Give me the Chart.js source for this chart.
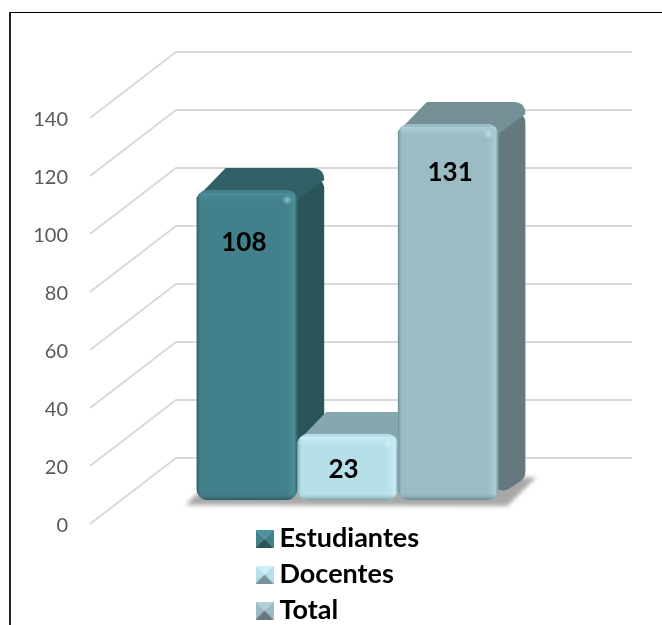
<!DOCTYPE html>
<html>
<head>
<meta charset="utf-8">
<script src="https://cdn.jsdelivr.net/npm/chart.js@4/dist/chart.umd.min.js"></script>
<style>
  html, body { margin: 0; padding: 0; background: #fff; }
  #wrap { position: relative; width: 662px; height: 625px; overflow: hidden; }
  #frame { position: absolute; left: 9px; top: 12px; right: -5px; bottom: -5px; border-left: 2px solid #222; border-top: 1px solid #000; }
  canvas { position: absolute; left: 0; top: 0; }
</style>
</head>
<body>
<div id="wrap">
  <div id="frame"></div>
  <canvas id="chart" width="662" height="625"></canvas>
</div>
<script>
const categories = ['']
const seriesNames = ['Estudiantes', 'Docentes', 'Total']
const seriesValues = [[108], [23], [131]]
const tickValues = [0, 20, 40, 60, 80, 100, 120, 140]

// front, top, side, light edge, dark edge
const palette = [
  ['#42818b', '#316067', '#295559', '#4c919b', '#2b5a61'],
  ['#b5dfe9', '#87a7ae', '#78949a', '#cdf0f8', '#7a9ca4'],
  ['#9cbcc5', '#748f95', '#64787d', '#aed0d9', '#688790']
]

const depthX = 27
const depthY = 22
const radius = 11
// value label shift from the bar's top centre
const labelShift = [[-3, 53], [-4, 36], [2, 49]]

function roundedPoly(ctx, pts, r) {
  ctx.beginPath()
  ctx.moveTo((pts[0][0] + pts[1][0]) / 2, (pts[0][1] + pts[1][1]) / 2)
  for (let i = 1; i <= pts.length; i++) {
    const p = pts[i % pts.length]
    const n = pts[(i + 1) % pts.length]
    ctx.arcTo(p[0], p[1], n[0], n[1], r)
  }
  ctx.closePath()
}

function legendIcon(colors) {
  const c = document.createElement('canvas')
  c.width = 18
  c.height = 18
  const g = c.getContext('2d')
  const tri = (a, b, d, color) => {
    g.fillStyle = color
    g.beginPath()
    g.moveTo(a[0], a[1])
    g.lineTo(b[0], b[1])
    g.lineTo(d[0], d[1])
    g.fill()
  }
  const m = [9, 9]
  tri([0, 0], [18, 0], m, colors[3])
  tri([0, 0], [0, 18], m, colors[0])
  tri([18, 0], [18, 18], m, colors[0])
  tri([0, 18], [18, 18], m, colors[2])
  return c
}

const wallAndFaces = {
  id: 'wallAndFaces',
  beforeDatasetsDraw(chart) {
    const ctx = chart.ctx
    const { left } = chart.chartArea
    const y = chart.scales.y
    ctx.save()
    ctx.strokeStyle = '#d9d9d9'
    ctx.lineWidth = 2
    tickValues.forEach(v => {
      const py = y.getPixelForValue(v)
      ctx.beginPath()
      ctx.moveTo(left, py)
      ctx.lineTo(left + 86, py - 66)
      ctx.lineTo(632, py - 66)
      ctx.stroke()
    })
    const first = chart.getDatasetMeta(0).data[0]
    const last = chart.getDatasetMeta(2).data[0]
    const x0 = first.x - first.width / 2
    const x1 = last.x + last.width / 2
    const base = first.base
    ctx.save()
    ctx.filter = 'blur(2px)'
    ctx.fillStyle = '#a8a8a8'
    ctx.beginPath()
    ctx.moveTo(x0 - 11, base + 5)
    ctx.lineTo(x0, base - 6)
    ctx.lineTo(x1 + depthX + 11, base - 23)
    ctx.lineTo(x1 + 9, base + 6)
    ctx.closePath()
    ctx.fill()
    ctx.restore()
    // side and top faces go down left to right, so each bar's top covers the side of the one before
    chart.data.datasets.forEach((ds, i) => {
      const bar = chart.getDatasetMeta(i).data[0]
      const colors = palette[i]
      const bx0 = bar.x - bar.width / 2
      const bx1 = bar.x + bar.width / 2
      ctx.fillStyle = colors[2]
      roundedPoly(ctx, [[bx1 - 6, bar.y], [bx1 + depthX, bar.y - depthY], [bx1 + depthX, bar.base - depthY], [bx1 - 6, bar.base]], radius)
      ctx.fill()
      ctx.fillStyle = colors[1]
      ctx.beginPath()
      ctx.moveTo(bx0 - 1, bar.y + 9)
      ctx.lineTo(bx0 + depthX + 2, bar.y - depthY)
      ctx.lineTo(bx1 + depthX - 12, bar.y - depthY)
      ctx.quadraticCurveTo(bx1 + depthX, bar.y - depthY, bx1 + depthX, bar.y - depthY + 12)
      ctx.lineTo(bx1, bar.y + 10)
      ctx.closePath()
      ctx.fill()
    })
    ctx.restore()
  }
}

const barBevel = {
  id: 'barBevel',
  afterDatasetDraw(chart, args) {
    const bar = args.meta.data[0]
    const colors = palette[args.index]
    const x0 = bar.x - bar.width / 2
    const x1 = bar.x + bar.width / 2
    const w = x1 - x0
    const h = bar.base - bar.y
    const ctx = chart.ctx
    ctx.save()
    ctx.beginPath()
    ctx.roundRect(x0, bar.y, w, h, radius)
    ctx.clip()
    const strip = (gx0, gy0, gx1, gy1, color, rx, ry, rw, rh) => {
      const g = ctx.createLinearGradient(gx0, gy0, gx1, gy1)
      g.addColorStop(0, color)
      g.addColorStop(1, colors[0] + '00')
      ctx.fillStyle = g
      ctx.fillRect(rx, ry, rw, rh)
    }
    strip(0, bar.y + 3, 0, bar.y + 14, colors[3], x0, bar.y + 3, w, 11)
    strip(x1 - 2, 0, x1 - 14, 0, colors[3], x1 - 14, bar.y, 12, h)
    strip(x0, 0, x0 + 5, 0, colors[4], x0, bar.y, 5, h)
    strip(0, bar.base, 0, bar.base - 7, colors[4], x0, bar.base - 7, w, 7)
    strip(x1, 0, x1 - 3, 0, colors[4], x1 - 3, bar.y, 3, h)
    const spot = ctx.createRadialGradient(x1 - 10, bar.y + 10, 0, x1 - 10, bar.y + 10, 5)
    spot.addColorStop(0, 'rgba(255,255,255,0.45)')
    spot.addColorStop(1, 'rgba(255,255,255,0)')
    ctx.fillStyle = spot
    ctx.fillRect(x1 - 18, bar.y + 2, 16, 16)
    ctx.restore()
  },
  afterDatasetsDraw(chart) {
    const ctx = chart.ctx
    ctx.save()
    ctx.fillStyle = '#000'
    ctx.font = 'bold 26px Lato'
    ctx.textAlign = 'center'
    ctx.textBaseline = 'middle'
    chart.data.datasets.forEach((ds, i) => {
      const bar = chart.getDatasetMeta(i).data[0]
      ctx.fillText(ds.data[0], bar.x + labelShift[i][0], bar.y + labelShift[i][1])
    })
    ctx.restore()
  }
}

const legendPlace = {
  id: 'legendPlace',
  afterLayout(chart) {
    const lg = chart.legend
    lg.left = 254
    lg.right = 500
    lg.top = 516
    lg.bottom = 700
  }
}

new Chart(document.getElementById('chart'), {
  type: 'bar',
  data: {
    labels: categories,
    datasets: seriesNames.map((name, i) => ({
      label: name,
      data: seriesValues[i],
      yAxisID: 'barAxis',
      backgroundColor: palette[i][0],
      borderRadius: radius,
      borderSkipped: false
    }))
  },
  options: {
    responsive: false,
    animation: false,
    layout: { padding: { left: 0, right: 57, top: 118, bottom: 101 } },
    categoryPercentage: 0.586,
    barPercentage: 1,
    scales: {
      x: { display: false },
      y: {
        min: 0,
        max: 140,
        afterFit: scale => { scale.width = 90 },
        border: { display: false },
        grid: { display: false, drawTicks: false },
        afterBuildTicks: scale => { scale.ticks = tickValues.map(v => ({ value: v })) },
        ticks: {
          padding: 22,
          labelOffset: 2,
          color: '#595959',
          font: { family: 'Lato', size: 20 }
        }
      },
      // the bars stand on a plane 24px behind the front of the axis
      barAxis: {
        display: false,
        min: -8.36,
        max: 133.1
      }
    },
    plugins: {
      tooltip: { enabled: false },
      legend: {
        position: 'chartArea',
        align: 'start',
        onClick: null,
        labels: {
          usePointStyle: true,
          boxWidth: 3,
          boxHeight: 18,
          padding: 9,
          color: '#000',
          font: { family: 'Lato', size: 27, weight: 'bold' },
          generateLabels: chart => chart.data.datasets.map((ds, i) => ({
            text: ds.label,
            datasetIndex: i,
            pointStyle: legendIcon(palette[i]),
            fontColor: '#000',
            lineWidth: 0
          }))
        }
      }
    }
  },
  plugins: [wallAndFaces, barBevel, legendPlace]
})
</script>
</body>
</html>
